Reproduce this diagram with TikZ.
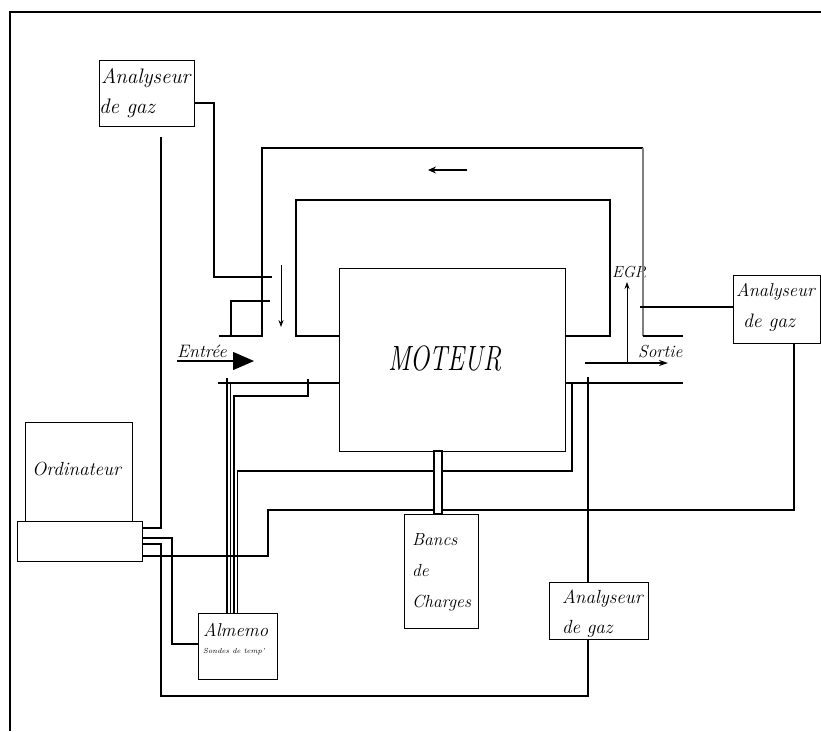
\documentclass[tikz,border=0pt]{standalone}
\usetikzlibrary{arrows.meta}
\begin{document}
\begin{tikzpicture}[x=1pt,y=-1pt,
  pipe/.style={line width=1.2pt,line join=miter},
  box/.style={draw,line width=1.2pt,inner sep=0pt,anchor=north west},
  lbl/.style={inner sep=0pt,anchor=base west,font=\fontsize{17.5}{20}\selectfont\itshape},
  big/.style={lbl,font=\fontsize{21}{22}\selectfont\itshape},
  thinarrow/.style={line width=0.8pt,-{Stealth[length=7pt,width=5pt]}}]
\useasboundingbox (0,0) rectangle (821,731);
% frame
\draw[line width=1.2pt] (10,731) -- (10,12) -- (821,12);
% boxes
\node[box,minimum width=95pt,minimum height=66pt] (ana1) at (99,60) {};
\node[box,minimum width=87pt,minimum height=68pt] (ana2) at (733,275) {};
\node[box,minimum width=99pt,minimum height=57pt] (ana3) at (549,582) {};
\node[box,minimum width=226pt,minimum height=183pt] (mot) at (339,268) {};
\node[box,minimum width=107pt,minimum height=99pt] (ordm) at (25,422) {};
\node[box,minimum width=125pt,minimum height=40pt] (ordb) at (17,521) {};
\node[box,minimum width=79pt,minimum height=66pt] (alm) at (198,613) {};
\node[box,minimum width=74pt,minimum height=114pt] (banc) at (404,514) {};
% texts
\node[big] (t1a) at (101,83) {Analyseur};
\node[big] (t1b) at (99,113) {de gaz};
\node[lbl,font=\fontsize{18.5}{20}\selectfont\itshape] (t2a) at (736,296) {Analyseur};
\node[lbl,font=\fontsize{19.5}{20}\selectfont\itshape] (t2b) at (743,327) {de gaz};
\node[lbl,font=\fontsize{19}{22}\selectfont\itshape] (t3a) at (562,603) {Analyseur};
\node[lbl,font=\fontsize{19}{22}\selectfont\itshape] (t3b) at (562,633) {de gaz};
\node[lbl] (tb1) at (412,545) {Bancs};
\node[lbl] (tb2) at (412,576) {de};
\node[lbl] (tb3) at (412,607) {Charges};
\node[lbl,font=\fontsize{19}{22}\selectfont\itshape] (tord) at (32,475) {Ordinateur};
\node[lbl,font=\fontsize{18.6}{22}\selectfont\itshape] (talm) at (203,636) {Almemo};
\node[lbl,font=\fontsize{7.3}{8}\selectfont\itshape] (tson) at (203,653) {Sondes de temp'};
\node[inner sep=0pt,anchor=base,font=\fontsize{27}{30}\selectfont\itshape] (tmot) at (445,370) {\scalebox{0.95}[1.3]{MOTEUR}};
\node[lbl,font=\fontsize{18}{22}\selectfont\itshape] (tent) at (177,357) {Entrée};
\node[lbl,font=\fontsize{17.4}{20}\selectfont\itshape] (tsor) at (638,357) {Sortie};
\node[lbl,font=\fontsize{16}{20}\selectfont\itshape] (tegr) at (612,277) {EGR};
% gas analyser 1 to intake
\draw[pipe] (ana1.east |- 0,103) -- (214,103) -- (214,277) -- (272,277);
\draw[pipe] (161,137) -- (161,528) -- (ordb.east |- 0,528);
% outer EGR loop
\draw[pipe] (219,336) -- (262,336) -- (262,148) -- (643,148);
\draw[pipe,gray] (643,148) -- (643,336);
\draw[pipe] (643,336) -- (683,336);
\draw[pipe] (231,336) -- (231,301) -- (270,301);
% inner loop
\draw[pipe] (mot.west |- 0,336) -- (296,336) -- (296,200) -- (610,200) -- (610,336) -- (mot.east |- 0,336);
% arrows
\draw[thinarrow] (281,265) -- (281,327);
\draw[line width=1.2pt,-{Stealth[length=8pt,width=7pt]}] (467,170) -- (428,170);
\draw[line width=1.2pt,-{Triangle[length=21pt,width=18pt]}] (177,361) -- (254,361);
\draw[thinarrow] (627,363) -- (627,282);
\draw[line width=1.2pt,-{Stealth[length=9pt,width=6pt]}] (585,363) -- (668,363);
% intake sensors to Almemo
\draw[pipe] (218,383) -- (mot.west |- 0,383);
\draw[pipe] (227,378) -- (alm.north -| 227,0);
\draw[pipe] (230.5,383) -- (alm.north -| 230.5,0);
\draw[pipe] (308,379) -- (308,396) -- (234,396) -- (alm.north -| 234,0);
\draw[pipe] (alm.north -| 237.5,0) -- (237.5,471) -- (572,471) -- (572,383);
% exhaust
\draw[pipe] (mot.east |- 0,383) -- (683,383);
\draw[pipe] (588,377) -- (ana3.north -| 588,0);
\draw[pipe] (ana3.south -| 588,0) -- (588,696) -- (161,696) -- (161,544) -- (ordb.east |- 0,544);
\draw[pipe] (ordb.east |- 0,538) -- (172,538) -- (172,644) -- (alm.west |- 0,644);
\draw[pipe] (ordb.east |- 0,556) -- (268,556) -- (268,510) -- (794,510) -- (ana2.south -| 794,0);
\draw[pipe] (640,307) -- (ana2.west |- 0,307);
% shaft to load bench
\draw[line width=1.2pt,fill=white] (434,451) rectangle (442,514);
\end{tikzpicture}
\end{document}
